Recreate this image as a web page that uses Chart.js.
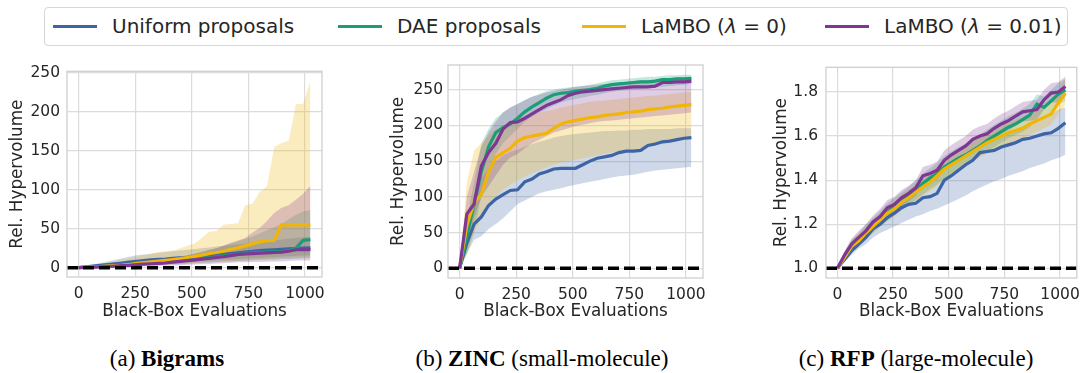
<!DOCTYPE html>
<html>
<head>
<meta charset="utf-8">
<script src="https://cdn.jsdelivr.net/npm/chart.js@4"></script>
<style>
  body { margin: 0; background: #fff; width: 1088px; height: 373px; position: relative; overflow: hidden; font-family: "DejaVu Sans"; color: #262626; }
  canvas { position: absolute; }
  #legend { position: absolute; left: 44px; top: 7px; width: 1022px; height: 37px; border: 1px solid #d6d6d6; border-radius: 4px; }
  .item { position: absolute; top: 0; height: 37px; line-height: 37px; font-size: 20px; white-space: nowrap; }
  .swatch { position: absolute; top: 17px; height: 3px; width: 44px; }
  .cap { position: absolute; top: 346px; font-family: "Liberation Serif"; font-size: 23px; white-space: nowrap; transform: translateX(-50%); color: #000; }
</style>
</head>
<body>
<div id="legend"></div>
<canvas id="bigrams" width="340" height="268" style="left:0px;top:55px"></canvas>
<canvas id="zinc" width="340" height="273" style="left:380px;top:50px"></canvas>
<canvas id="rfp" width="338" height="273" style="left:750px;top:50px"></canvas>
<div class="cap" style="left:167px">(a) <b>Bigrams</b></div>
<div class="cap" style="left:542px">(b) <b>ZINC</b> (small-molecule)</div>
<div class="cap" style="left:916px">(c) <b>RFP</b> (large-molecule)</div>
<script>
// black-box evaluations (x positions of every sample)
const evals = [0,32,64,96,128,160,192,224,256,288,320,352,384,416,448,480,512,544,576,608,640,672,704,736,768,800,832,864,896,928,960,992,1024];
const seriesNames = ['Uniform proposals', 'DAE proposals', 'LaMBO (<i>λ</i> = 0)', 'LaMBO (<i>λ</i> = 0.01)'];
const seriesColors = ['#3d65a5', '#1a9e77', '#f1b505', '#7e3794'];
const xTicks = [0, 250, 500, 750, 1000];
const xRange = [-51.2, 1075.2];

// (a) Bigrams
const bigramsUniform   = [0,1,2,3,4,5,6,7,8,9,10,10.5,11,12,12.5,13,14,15,15.5,16,17,18,19,20,21,22,22.5,23,23.5,24,24.5,25,25.5];
const bigramsUniformLo = [0,0.5,1,1.5,2,2.5,3,3.5,4,4.5,5,5.5,6,6.5,7,7.5,8,8.5,9,9.5,10,10.5,11,11.5,12,12.5,13,13.5,14,14.5,15,15.5,16];
const bigramsUniformHi = [0,2,4,6,8,10,12,14,16,17,18,19,20,21,22,23,24,25,26,27,28,29,30,31,32,33,34,35,36,37,38,39,40];
const bigramsDae       = [0,0.5,1,1.5,2,3,3.5,4,5,5.5,6,7,7.5,8,9,10,11,12,13,14,15,16,17,18,19,19.5,20,20.5,21,22,25,35,36];
const bigramsDaeLo     = [0,0,0.5,1,1,1.5,2,2,2.5,3,3,3.5,4,4,4.5,5,5.5,6,6.5,7,7.5,8,8.5,9,9.5,10,10,10.5,11,11,11.5,12,12];
const bigramsDaeHi     = [0,1,2,3,4,5,6,7,8,9,10,11,12,13,14,16,18,20,22,25,28,31,34,37,40,44,48,52,56,62,68,72,74];
const bigramsLambo0    = [0,0.5,1,1.5,2,2.5,3,4,5.5,6.5,7.5,8.5,9.5,10.5,11.5,13,14.5,16,18,19.5,21,23.5,25.5,28,30.5,33,34.5,35,55,55,55,55,55];
const bigramsLambo0Lo  = [0,0,0.5,0.5,1,1,1.5,2,2.5,3,3,3.5,4,4.5,5,5.5,6,6.5,7,7.5,8,8.5,9,9.5,10,10.5,11,11.5,12,12.5,13,13.5,14];
const bigramsLambo0Hi  = [0,1.5,3,4.5,6,8,10,12,14,16,18,20,21,22,25,28,31,38,46,47,55,56,57,80,82,97,104,155,160,163,210,210,240];
const bigramsLambo001   = [0,0.3,0.6,1,1.5,2,2.5,3,4,4.5,5,5.5,6,7,8,9,10,11,12,13,14,15.5,17,17.5,18,18.5,19,19.5,20,21,23,23,23];
const bigramsLambo001Lo = [0,0,0.2,0.4,0.6,0.8,1,1.2,1.6,1.8,2,2.2,2.4,2.8,3.2,3.6,4,4.4,4.8,5.2,5.6,6.2,6.8,7,7.2,7.4,7.6,7.8,8,8.4,9.2,9.2,9.2];
const bigramsLambo001Hi = [0,1,2,3,4,5,6,7,8,9,10,11,12,13,14,16,18,20,23,25,28,32,35,38,45,51,60,70,77,80,87,95,105];
const bigramsYTicks = [0, 50, 100, 150, 200, 250];

// (b) ZINC
const zincUniform   = [0,35,62,72,88,97,103,109,110,121,125,132,135,139,140,140,140,145,150,154,156,158,162,164,164,165,172,174,177,178,180,182,183];
const zincUniformLo = [0,20,40,45,55,62,70,80,90,95,100,105,108,110,112,115,117,119,121,123,125,127,129,130,131,133,135,137,138,139,140,141,142];
const zincUniformHi = [0,60,100,125,140,150,158,163,166,170,174,177,180,183,185,187,188,189,190,191,192,192,193,193,194,194,195,195,195,195,196,196,196];
const zincDae       = [0,45,90,135,170,190,197,202,210,219,226,232,238,243,245,246,248,249,250,252,255,257,258,259,260,261,261,262,264,264,265,265,266];
const zincDaeLo     = [0,20,50,100,130,160,175,185,195,205,212,218,223,228,232,235,237,239,241,243,245,247,248,249,250,251,252,253,254,255,256,257,258];
const zincDaeHi     = [0,70,120,175,195,210,218,225,230,236,240,244,248,250,252,253,254,255,257,259,261,263,264,265,266,267,268,268,269,270,270,271,271];
const zincLambo0    = [0,60,92,103,135,155,162,168,178,183,185,187,189,196,202,205,207,209,211,212,214,215,216,218,219,220,222,223,224,226,227,228,229];
const zincLambo0Lo  = [0,20,50,70,90,100,110,117,123,128,133,137,141,145,148,150,152,154,156,158,160,162,163,165,166,168,170,172,174,176,178,180,181];
const zincLambo0Hi  = [0,120,165,175,185,195,200,205,210,212,215,218,220,222,225,227,229,231,233,234,235,236,237,238,239,240,241,242,243,244,245,246,247];
const zincLambo001   = [0,76,90,143,162,175,195,204,205,210,216,222,228,232,236,242,245,247,248,249,250,251,252,253,254,254,254,255,260,260,261,261,262];
const zincLambo001Lo = [0,40,70,100,115,130,145,155,160,168,175,180,185,190,193,196,199,201,203,205,206,207,208,209,210,211,212,213,214,215,216,217,218];
const zincLambo001Hi = [0,100,135,170,190,205,218,225,230,235,240,243,246,248,250,252,254,255,256,257,258,259,260,261,262,263,263,264,265,266,267,267,268];
const zincYTicks = [0, 50, 100, 150, 200, 250];

// (c) RFP
const rfpUniform   = [1.0,1.04,1.08,1.11,1.14,1.18,1.20,1.23,1.25,1.275,1.29,1.295,1.32,1.325,1.34,1.40,1.42,1.445,1.47,1.49,1.525,1.53,1.535,1.55,1.56,1.57,1.585,1.59,1.60,1.61,1.615,1.635,1.66];
const rfpUniformLo = [1.0,1.03,1.06,1.09,1.11,1.14,1.16,1.175,1.19,1.205,1.22,1.235,1.245,1.26,1.27,1.285,1.30,1.315,1.33,1.35,1.365,1.38,1.395,1.405,1.42,1.43,1.44,1.455,1.465,1.475,1.49,1.50,1.515];
const rfpUniformHi = [1.0,1.05,1.10,1.13,1.165,1.20,1.23,1.26,1.29,1.31,1.33,1.35,1.37,1.39,1.41,1.44,1.48,1.50,1.52,1.54,1.56,1.575,1.59,1.60,1.615,1.63,1.645,1.66,1.675,1.69,1.70,1.72,1.73];
const rfpDae       = [1.0,1.05,1.10,1.13,1.165,1.195,1.225,1.255,1.28,1.305,1.33,1.355,1.385,1.41,1.43,1.46,1.48,1.50,1.515,1.535,1.555,1.58,1.60,1.62,1.64,1.655,1.675,1.695,1.745,1.73,1.76,1.79,1.81];
const rfpDaeLo     = [1.0,1.03,1.07,1.10,1.13,1.16,1.19,1.215,1.24,1.265,1.29,1.31,1.335,1.36,1.38,1.41,1.43,1.45,1.47,1.49,1.51,1.53,1.55,1.57,1.59,1.605,1.62,1.64,1.68,1.68,1.71,1.74,1.76];
const rfpDaeHi     = [1.0,1.07,1.13,1.16,1.20,1.23,1.26,1.295,1.32,1.345,1.37,1.40,1.43,1.455,1.48,1.51,1.53,1.55,1.565,1.585,1.605,1.63,1.65,1.67,1.69,1.705,1.725,1.745,1.79,1.78,1.81,1.84,1.86];
const rfpLambo0    = [1.0,1.05,1.10,1.125,1.16,1.19,1.22,1.25,1.27,1.30,1.32,1.345,1.37,1.39,1.42,1.45,1.47,1.49,1.51,1.53,1.55,1.57,1.585,1.60,1.615,1.625,1.635,1.655,1.67,1.685,1.70,1.75,1.795];
const rfpLambo0Lo  = [1.0,1.03,1.07,1.095,1.13,1.16,1.19,1.215,1.235,1.265,1.285,1.305,1.33,1.35,1.375,1.405,1.425,1.445,1.465,1.485,1.505,1.52,1.535,1.55,1.565,1.575,1.585,1.605,1.62,1.635,1.65,1.70,1.74];
const rfpLambo0Hi  = [1.0,1.07,1.13,1.155,1.19,1.22,1.25,1.285,1.305,1.335,1.355,1.385,1.41,1.43,1.465,1.495,1.515,1.535,1.555,1.575,1.595,1.62,1.635,1.65,1.665,1.675,1.685,1.705,1.72,1.735,1.75,1.80,1.865];
const rfpLambo001   = [1.0,1.06,1.11,1.14,1.17,1.21,1.235,1.275,1.29,1.32,1.34,1.365,1.42,1.43,1.445,1.49,1.515,1.535,1.555,1.585,1.60,1.61,1.635,1.655,1.67,1.69,1.71,1.715,1.72,1.765,1.795,1.80,1.825];
const rfpLambo001Lo = [1.0,1.04,1.085,1.11,1.14,1.18,1.20,1.24,1.255,1.285,1.305,1.33,1.38,1.39,1.405,1.445,1.47,1.49,1.51,1.54,1.555,1.565,1.59,1.61,1.625,1.645,1.665,1.67,1.675,1.72,1.75,1.755,1.78];
const rfpLambo001Hi = [1.0,1.08,1.135,1.17,1.20,1.24,1.27,1.31,1.325,1.355,1.375,1.40,1.46,1.47,1.485,1.535,1.56,1.58,1.60,1.63,1.645,1.655,1.68,1.70,1.715,1.735,1.755,1.76,1.765,1.81,1.84,1.845,1.87];
const rfpYTicks = [1.0, 1.2, 1.4, 1.6, 1.8];

// legend (html, shared by the three panels)
const legendLeft = [8, 293, 537, 780];
const legend = document.getElementById('legend');
seriesNames.forEach((name, i) => {
    let sw = document.createElement('div');
    sw.className = 'swatch';
    sw.style.left = legendLeft[i] + 'px';
    sw.style.background = seriesColors[i];
    legend.appendChild(sw);
    let tx = document.createElement('div');
    tx.className = 'item';
    tx.style.left = (legendLeft[i] + 59) + 'px';
    tx.innerHTML = name;
    legend.appendChild(tx);
});

function pts(ys) {
    return evals.map((x, i) => ({x: x, y: ys[i]}));
}

function rgba(hex, a) {
    let n = parseInt(hex.slice(1), 16);
    return 'rgba(' + (n >> 16) + ',' + ((n >> 8) & 255) + ',' + (n & 255) + ',' + a + ')';
}

// light grey frame round the plot area, like the seaborn whitegrid spines
const framePlugin = {
    id: 'frame',
    afterDatasetsDraw(chart) {
        const a = chart.chartArea;
        const ctx = chart.ctx;
        ctx.save();
        ctx.strokeStyle = '#cfcfcf';
        ctx.lineWidth = 1.3;
        ctx.strokeRect(a.left, a.top, a.right - a.left, a.bottom - a.top);
        ctx.restore();
    }
};

function makePanel(id, p) {
    let datasets = [];
    for (let i = 0; i < 4; i++) {
        datasets.push({data: pts(p.lo[i]), borderWidth: 0, pointRadius: 0, fill: false, order: 30 - i});
        datasets.push({data: pts(p.hi[i]), borderWidth: 0, pointRadius: 0, fill: '-1',
                       backgroundColor: rgba(seriesColors[i], 0.25), order: 30 - i});
    }
    for (let i = 0; i < 4; i++) {
        datasets.push({data: pts(p.mean[i]), borderColor: seriesColors[i], borderWidth: 3.2,
                       pointRadius: 0, fill: false, order: 10 - i});
    }
    // dashed reference line
    datasets.push({data: [{x: xRange[0], y: p.ref}, {x: xRange[1], y: p.ref}], borderColor: '#000',
                   borderWidth: 3.5, borderDash: [11, 5], pointRadius: 0, fill: false, order: 0});

    const tickFont = {family: 'DejaVu Sans', size: 15.5};
    const titleFont = {family: 'DejaVu Sans', size: 16.8};

    new Chart(document.getElementById(id), {
        type: 'line',
        data: {datasets: datasets},
        options: {
            responsive: false,
            animation: false,
            layout: {padding: {left: 0, top: p.padTop, right: p.padRight, bottom: 0}},
            plugins: {legend: {display: false}, tooltip: {enabled: false}},
            elements: {line: {tension: 0}},
            scales: {
                x: {
                    type: 'linear', min: xRange[0], max: xRange[1],
                    afterBuildTicks: s => { s.ticks = xTicks.map(v => ({value: v})); },
                    afterFit: s => { s.height = p.xAxisH; },
                    grid: {color: '#dcdcdc', lineWidth: 1.2, drawTicks: false},
                    border: {display: false},
                    ticks: {padding: 8, color: '#262626', font: tickFont, maxRotation: 0,
                            callback: v => String(v)},
                    title: {display: true, text: 'Black-Box Evaluations', color: '#262626', font: titleFont,
                            padding: {top: 0, bottom: 1}}
                },
                y: {
                    type: 'linear', min: p.yMin, max: p.yMax,
                    afterBuildTicks: s => { s.ticks = p.yTicks.map(v => ({value: v})); },
                    afterFit: s => { s.width = p.yAxisW; },
                    grid: {color: '#dcdcdc', lineWidth: 1.2, drawTicks: false},
                    border: {display: false},
                    ticks: {padding: p.yTickPad, color: '#262626', font: tickFont,
                            callback: v => p.decimals ? v.toFixed(p.decimals) : String(v)},
                    title: {display: true, text: 'Rel. Hypervolume', color: '#262626', font: titleFont,
                            padding: {top: p.yTitlePad, bottom: 0}}
                }
            }
        },
        plugins: [framePlugin]
    });
}

makePanel('bigrams', {
    mean: [bigramsUniform, bigramsDae, bigramsLambo0, bigramsLambo001],
    lo: [bigramsUniformLo, bigramsDaeLo, bigramsLambo0Lo, bigramsLambo001Lo],
    hi: [bigramsUniformHi, bigramsDaeHi, bigramsLambo0Hi, bigramsLambo001Hi],
    ref: 0, yMin: -12, yMax: 252, yTicks: bigramsYTicks, decimals: 0,
    padTop: 15, padRight: 18, xAxisH: 46, yAxisW: 67, yTickPad: 7, yTitlePad: 8
});

makePanel('zinc', {
    mean: [zincUniform, zincDae, zincLambo0, zincLambo001],
    lo: [zincUniformLo, zincDaeLo, zincLambo0Lo, zincLambo001Lo],
    hi: [zincUniformHi, zincDaeHi, zincLambo0Hi, zincLambo001Hi],
    ref: 0, yMin: -13.5, yMax: 284.5, yTicks: zincYTicks, decimals: 0,
    padTop: 15, padRight: 17, xAxisH: 45, yAxisW: 68, yTickPad: 5, yTitlePad: 9
});

makePanel('rfp', {
    mean: [rfpUniform, rfpDae, rfpLambo0, rfpLambo001],
    lo: [rfpUniformLo, rfpDaeLo, rfpLambo0Lo, rfpLambo001Lo],
    hi: [rfpUniformHi, rfpDaeHi, rfpLambo0Hi, rfpLambo001Hi],
    ref: 1.0, yMin: 0.956, yMax: 1.912, yTicks: rfpYTicks, decimals: 1,
    padTop: 15, padRight: 3, xAxisH: 45, yAxisW: 76, yTickPad: 8, yTitlePad: 22
});
</script>
</body>
</html>
